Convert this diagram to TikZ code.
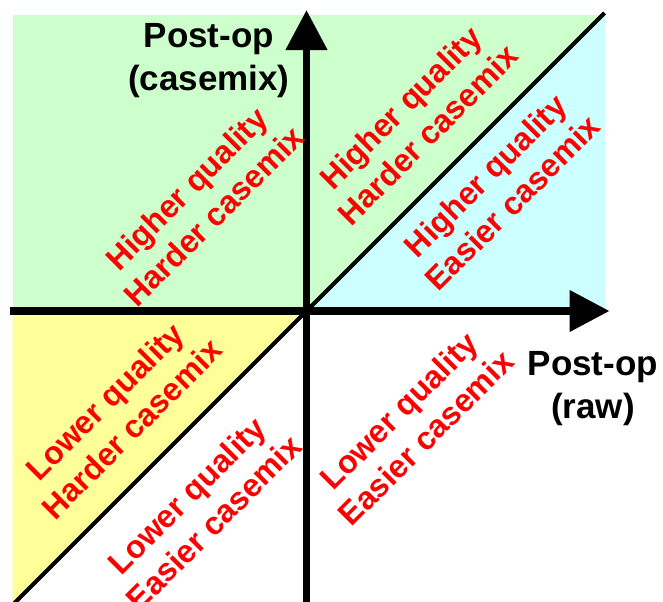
\documentclass[tikz,border=0pt]{standalone}
\usepackage{fontspec}
\setmainfont{Liberation Sans}
\usetikzlibrary{arrows.meta}
\definecolor{hgreen}{HTML}{CCFFCC}
\definecolor{hcyan}{HTML}{CCFFFF}
\definecolor{lyellow}{HTML}{FFFF99}

\begin{document}
\begin{tikzpicture}[axis/.style = {line width=0.19cm, -{Triangle[length=1cm, width=1cm]}}, diag/.style = {line width=0.1cm}, quad/.style = {text=red, font=\bfseries\fontsize{22.8}{27.4}\selectfont, align=center, rotate=45}, axislabel/.style = {font=\bfseries\fontsize{24.9}{30.5}\selectfont, align=center}]
	\useasboundingbox (-7.6625,-7.25) rectangle (8.9125,7.775);
	
	\fill[hgreen] (-7.345,0) rectangle (7.4625,7.4);
	\fill[hcyan] (0,0) -- (7.4625,0) -- (7.4625,7.4625) -- cycle;
	\fill[lyellow] (-7.345,0) -- (0,0) -- (-7.25,-7.25) -- (-7.345,-7.25) -- cycle;
	
	\coordinate (o) at (0,0);
	\coordinate (xl) at (-7.4,0);
	\coordinate (xr) at (7.575,0);
	\coordinate (yb) at (0,-7.3);
	\coordinate (yt) at (0,7.525);
	\coordinate (dl) at (-7.3,-7.3);
	\coordinate (dr) at (7.45,7.45);
	
	\draw[diag] (dl) -- (dr);
	\draw[axis] (xl) -- (xr);
	\draw[axis] (yb) -- (yt);
	
	\node[axislabel] (ylab) at (-2.44,6.25) {Post-op\\(casemix)};
	\node[axislabel] (xlab) at (7.16,-1.94) {Post-op\\(raw)};
	
	\node[quad] (hh1) at (-2.66,2.72) {Higher quality\\Harder casemix};
	\node[quad] (hh2) at (2.69,4.75) {Higher quality\\Harder casemix};
	\node[quad] (he) at (4.81,3.05) {Higher quality\\Easier casemix};
	\node[quad] (lh) at (-4.71,-2.6) {Lower quality\\Harder casemix};
	\node[quad] (le1) at (-2.66,-4.95) {Lower quality\\Easier casemix};
	\node[quad] (le2) at (2.64,-2.83) {Lower quality\\Easier casemix};
	
\end{tikzpicture}
\end{document}
